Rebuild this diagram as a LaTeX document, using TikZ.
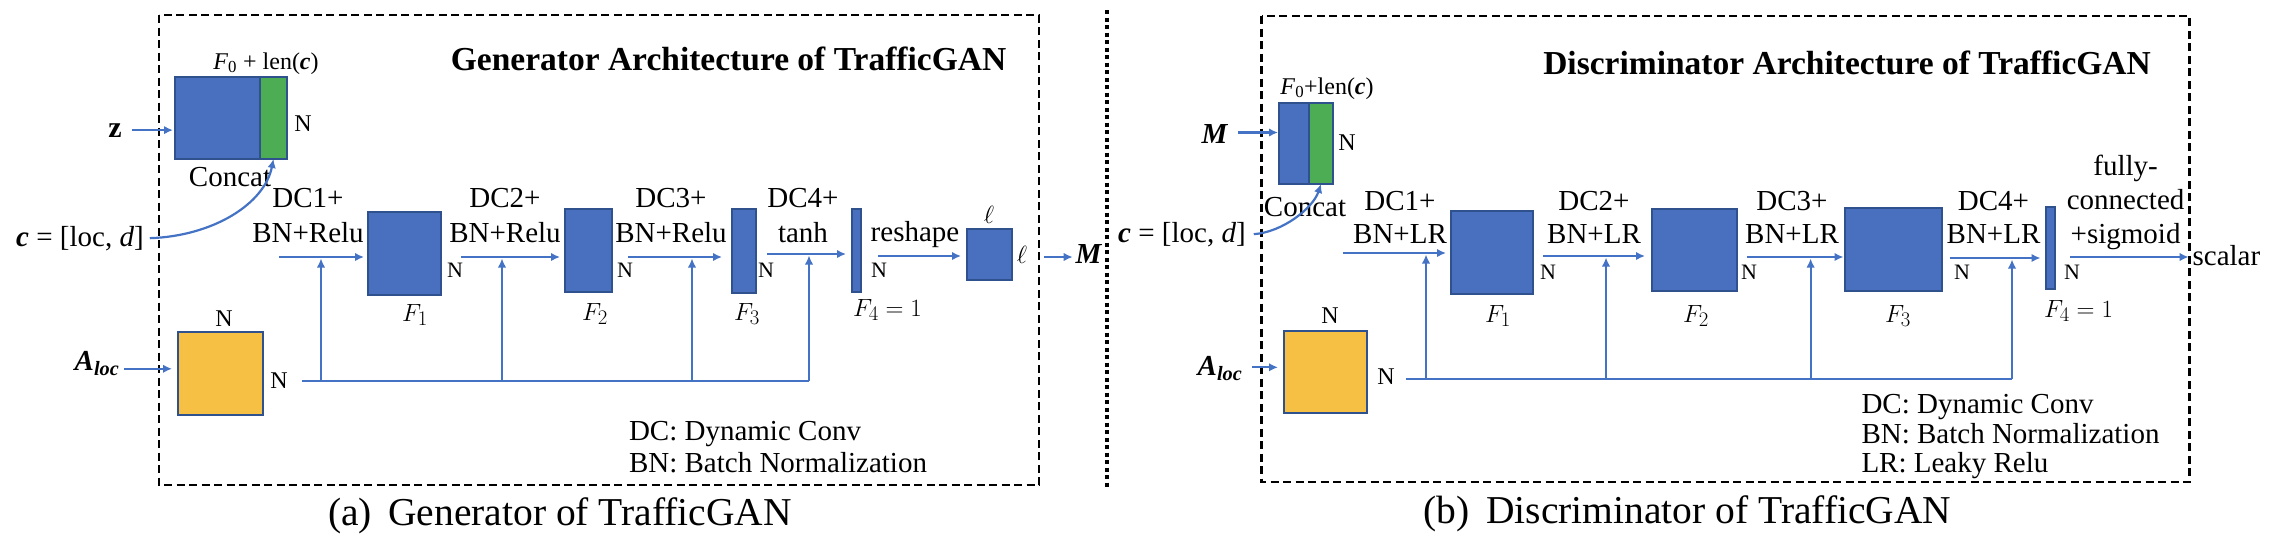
\documentclass[tikz,border=0pt]{standalone}
\usepackage{amsmath}
\usepackage{fontspec}
\setmainfont{Liberation Serif}
\usetikzlibrary{arrows.meta}
\definecolor{lineblue}{RGB}{68,114,196}
\definecolor{boxblue}{RGB}{72,112,190}
\definecolor{boxedge}{RGB}{47,82,143}
\definecolor{cgreen}{RGB}{76,173,84}
\definecolor{cyellow}{RGB}{245,192,67}
\tikzset{
  tx/.style={inner sep=0pt, outer sep=0pt, anchor=base, font=\fontsize{29}{33}\selectfont},
  nl/.style={inner sep=0pt, outer sep=0pt, anchor=base, font=\fontsize{22}{26}\selectfont},
  nlb/.style={inner sep=0pt, outer sep=0pt, anchor=base, font=\fontsize{24}{28}\selectfont},
  fl/.style={inner sep=0pt, outer sep=0pt, anchor=base, font=\fontsize{28}{32}\selectfont},
  ttl/.style={inner sep=0pt, outer sep=0pt, anchor=base, font=\fontsize{33.5}{38}\selectfont\bfseries},
  captxt/.style={inner sep=0pt, outer sep=0pt, anchor=base, font=\fontsize{39.5}{44}\selectfont},
  lg/.style={inner sep=0pt, outer sep=0pt, anchor=base west, font=\fontsize{29}{33}\selectfont},
  fbox/.style={draw=boxedge, fill=boxblue, line width=1.2pt, inner sep=0pt, outer sep=0pt},
  gbox/.style={fbox, fill=cgreen},
  ybox/.style={fbox, fill=cyellow},
  arr/.style={draw=lineblue, line width=2.2pt, -{Latex[length=9pt,width=8.5pt]}},
  ln/.style={draw=lineblue, line width=2.2pt},
  frame/.style={draw=black, line width=2.5pt, dash pattern=on 8pt off 4.5pt},
  sepline/.style={draw=black, line width=4pt, dash pattern=on 4pt off 3.5pt},
}
\begin{document}
\begin{tikzpicture}[x=1pt,y=-1pt]
\useasboundingbox (0,0) rectangle (2274,542);

% frames and separator
\draw[frame] (159,15) rectangle (1039,485);
\draw[frame] (1261.5,16) rectangle (2189.5,482);
\draw[sepline] (1107,10) -- (1107,487);

%%%%%%%%%%%%%%%% Generator %%%%%%%%%%%%%%%%
\node[ttl] (gtitle) at (728.5,70) {Generator Architecture of TrafficGAN};

\node[fbox, minimum width=85pt, minimum height=82pt] (gcb) at (217.5,118) {};
\node[gbox, minimum width=27pt, minimum height=82pt] (gcg) at (273.5,118) {};
\node[nlb] (gf0) at (266,69) {\textit{F}\textsubscript{0} + len(\textbf{\textit{c}})};
\node[nlb] (gn0) at (303,131) {N};
\node[tx] (gcon) at (230,186) {Concat};
\node[inner sep=0pt, anchor=base, font=\fontsize{30}{34}\selectfont] (gz) at (115,137) {\textbf{z}};
\node[tx] (gc) at (80,246) {\textbf{\textit{c}} = [loc, \textit{d}]};

\node[fbox, minimum width=73pt, minimum height=83pt] (gF1) at (404.5,253.5) {};
\node[fbox, minimum width=47pt, minimum height=83pt] (gF2) at (588.5,250.5) {};
\node[fbox, minimum width=24pt, minimum height=84pt] (gF3) at (744,251) {};
\node[fbox, minimum width=9pt, minimum height=83pt] (gF4) at (856.5,250.5) {};
\node[fbox, minimum width=45pt, minimum height=51pt] (gMb) at (989.5,254.5) {};
\node[ybox, minimum width=85pt, minimum height=83pt] (gA) at (220.5,373.5) {};

\node[tx] (gd1) at (308,207) {DC1+};
\node[tx] (gb1) at (308,242) {BN+Relu};
\node[tx] (gd2) at (505,207) {DC2+};
\node[tx] (gb2) at (505,242) {BN+Relu};
\node[tx] (gd3) at (671,207) {DC3+};
\node[tx] (gb3) at (671,242) {BN+Relu};
\node[tx] (gd4) at (803,207) {DC4+};
\node[tx] (gb4) at (803,242) {tanh};
\node[tx] (grs) at (915,241) {reshape};

\node[nl] (gn1) at (455,277) {N};
\node[nl] (gn2) at (625,277) {N};
\node[nl] (gn3) at (766,277) {N};
\node[nl] (gn4) at (879,277) {N};
\node[fl] (gl1) at (415,321) {$F_1$};
\node[fl] (gl2) at (595,320) {$F_2$};
\node[fl] (gl3) at (747,320) {$F_3$};
\node[fl, anchor=base west] (gl4) at (853,316) {$F_4 = 1$};
\node[nlb] (gell1) at (989,223) {$\ell$};
\node[nlb] (gell2) at (1022,263) {$\ell$};
\node[tx] (gM) at (1089,263) {\textbf{\textit{M}}};

\node[tx] (gAl) at (97,370) {\textbf{\textit{A}}\textsubscript{\textbf{\textit{loc}}}};
\node[nlb] (gan1) at (224,326) {N};
\node[nlb] (gan2) at (279,388) {N};

\node[lg] (glg1) at (629,440) {DC: Dynamic Conv};
\node[lg] (glg2) at (629,472) {BN: Batch Normalization};
\node[captxt] (gcap) at (560,525) {(a)\, Generator of TrafficGAN};

% generator connectors
\draw[arr] ([xshift=10pt]gz.east) -- ([xshift=-2pt]gz.east -| gcb.west);
\draw[arr] ([xshift=6pt]gc.east) .. controls +(63,-2) and +(-9,45) .. (gcg.south);
\draw[arr] ([xshift=5pt,yshift=-5.5pt]gAl.east) -- ([xshift=-6pt,yshift=-5.5pt]gAl.east -| gA.west);

\coordinate (ga1) at (279,257);
\coordinate (ga2) at (461,257);
\coordinate (ga3) at (628,257);
\coordinate (ga4) at (767,254);
\coordinate (ga5) at (878,256);
\coordinate (ga6) at (1044,257);
\draw[arr] (ga1) -- ([xshift=-4pt]ga1 -| gF1.west);
\draw[arr] (ga2) -- ([xshift=-5pt]ga2 -| gF2.west);
\draw[arr] (ga3) -- ([xshift=-10pt]ga3 -| gF3.west);
\draw[arr] (ga4) -- ([xshift=-6pt]ga4 -| gF4.west);
\draw[arr] (ga5) -- ([xshift=-6pt]ga5 -| gMb.west);
\draw[arr] (ga6) -- ([xshift=-3pt]ga6 -| gM.west);

\coordinate (gh) at (302,381);
\coordinate (gv1) at (321,381);
\coordinate (gv2) at (502,381);
\coordinate (gv3) at (692,381);
\coordinate (gv4) at (809,381);
\draw[ln] (gh) -- (gv4);
\draw[arr] (gv1) -- ([yshift=-1.5pt]gv1 |- ga1);
\draw[arr] (gv2) -- ([yshift=-1.5pt]gv2 |- ga2);
\draw[arr] (gv3) -- ([yshift=-1.5pt]gv3 |- ga3);
\draw[arr] (gv4) -- ([yshift=-1.5pt]gv4 |- ga4);

%%%%%%%%%%%%%%%% Discriminator %%%%%%%%%%%%%%%%
\node[ttl] (dtitle) at (1847,74) {Discriminator Architecture of TrafficGAN};

\node[fbox, minimum width=30pt, minimum height=81pt] (dcb) at (1294,143.5) {};
\node[gbox, minimum width=24pt, minimum height=81pt] (dcg) at (1321,143.5) {};
\node[nlb] (df0) at (1327,94) {\textit{F}\textsubscript{0}+len(\textbf{\textit{c}})};
\node[nlb] (dn0) at (1347,150) {N};
\node[tx] (dcon) at (1305,216) {Concat};
\node[tx] (dM) at (1215,143) {\textbf{\textit{M}}};
\node[tx] (dc) at (1182,242) {\textbf{\textit{c}} = [loc, \textit{d}]};

\node[fbox, minimum width=82pt, minimum height=83pt] (dF1) at (1492,252.5) {};
\node[fbox, minimum width=85pt, minimum height=82pt] (dF2) at (1694.5,250) {};
\node[fbox, minimum width=97pt, minimum height=83pt] (dF3) at (1893.5,249.5) {};
\node[fbox, minimum width=9pt, minimum height=82pt] (dF4) at (2050.5,248) {};
\node[ybox, minimum width=83pt, minimum height=82pt] (dA) at (1325.5,372) {};

\node[tx] (dd1) at (1400,210) {DC1+};
\node[tx] (db1) at (1400,243) {BN+LR};
\node[tx] (dd2) at (1594,210) {DC2+};
\node[tx] (db2) at (1594,243) {BN+LR};
\node[tx] (dd3) at (1792,210) {DC3+};
\node[tx] (db3) at (1792,243) {BN+LR};
\node[tx] (dd4) at (1993.5,210) {DC4+};
\node[tx] (db4) at (1993.5,243) {BN+LR};
\node[tx] (dfc1) at (2125.6,175) {fully-};
\node[tx] (dfc2) at (2125.6,209) {connected};
\node[tx] (dfc3) at (2125.6,243) {+sigmoid};
\node[tx, anchor=base west] (dsc) at (2192.6,265) {scalar};

\node[nl] (dn1) at (1548,279) {N};
\node[nl] (dn2) at (1749,279) {N};
\node[nl] (dn3) at (1962,279) {N};
\node[nl] (dn4) at (2072,279) {N};
\node[fl] (dl1) at (1498,322) {$F_1$};
\node[fl] (dl2) at (1696,322) {$F_2$};
\node[fl] (dl3) at (1898,322) {$F_3$};
\node[fl, anchor=base west] (dl4) at (2044,317) {$F_4 = 1$};

\node[tx] (dAl) at (1220,375) {\textbf{\textit{A}}\textsubscript{\textbf{\textit{loc}}}};
\node[nlb] (dan1) at (1330,323) {N};
\node[nlb] (dan2) at (1386,384) {N};

\node[lg] (dlg1) at (1861.5,413) {DC: Dynamic Conv};
\node[lg] (dlg2) at (1861.5,443) {BN: Batch Normalization};
\node[lg] (dlg3) at (1861.5,472) {LR: Leaky Relu};
\node[captxt] (dcap) at (1687.5,523) {(b)\, Discriminator of TrafficGAN};

% discriminator connectors
\draw[arr] ([xshift=10pt,yshift=1pt]dM.east) -- ([xshift=-1pt,yshift=1pt]dM.east -| dcb.west);
\draw[arr] ([xshift=8pt]dc.east) .. controls +(29,-2) and +(-8,24) .. (dcg.south);
\draw[arr] ([xshift=9.5pt,yshift=1pt]dAl.east) -- ([xshift=-6pt,yshift=1pt]dAl.east -| dA.west);

\coordinate (da1) at (1343,253);
\coordinate (da2) at (1543,256);
\coordinate (da3) at (1747,257);
\coordinate (da4) at (1949.5,258);
\coordinate (da5) at (2070,257);
\draw[arr] (da1) -- ([xshift=-5pt]da1 -| dF1.west);
\draw[arr] (da2) -- ([xshift=-7pt]da2 -| dF2.west);
\draw[arr] (da3) -- ([xshift=-1.5pt]da3 -| dF3.west);
\draw[arr] (da4) -- ([xshift=-5.5pt]da4 -| dF4.west);
\draw[arr] (da5) -- ([xshift=-4pt]da5 -| dsc.west);

\coordinate (dh) at (1406,379);
\coordinate (dv1) at (1426,379);
\coordinate (dv2) at (1606,379);
\coordinate (dv3) at (1810.6,379);
\coordinate (dv4) at (2012,379);
\draw[ln] (dh) -- (dv4);
\draw[arr] (dv1) -- ([yshift=-1.5pt]dv1 |- da1);
\draw[arr] (dv2) -- ([yshift=-1.5pt]dv2 |- da2);
\draw[arr] (dv3) -- ([yshift=-1.5pt]dv3 |- da3);
\draw[arr] (dv4) -- ([yshift=-1.5pt]dv4 |- da4);
\end{tikzpicture}
\end{document}
